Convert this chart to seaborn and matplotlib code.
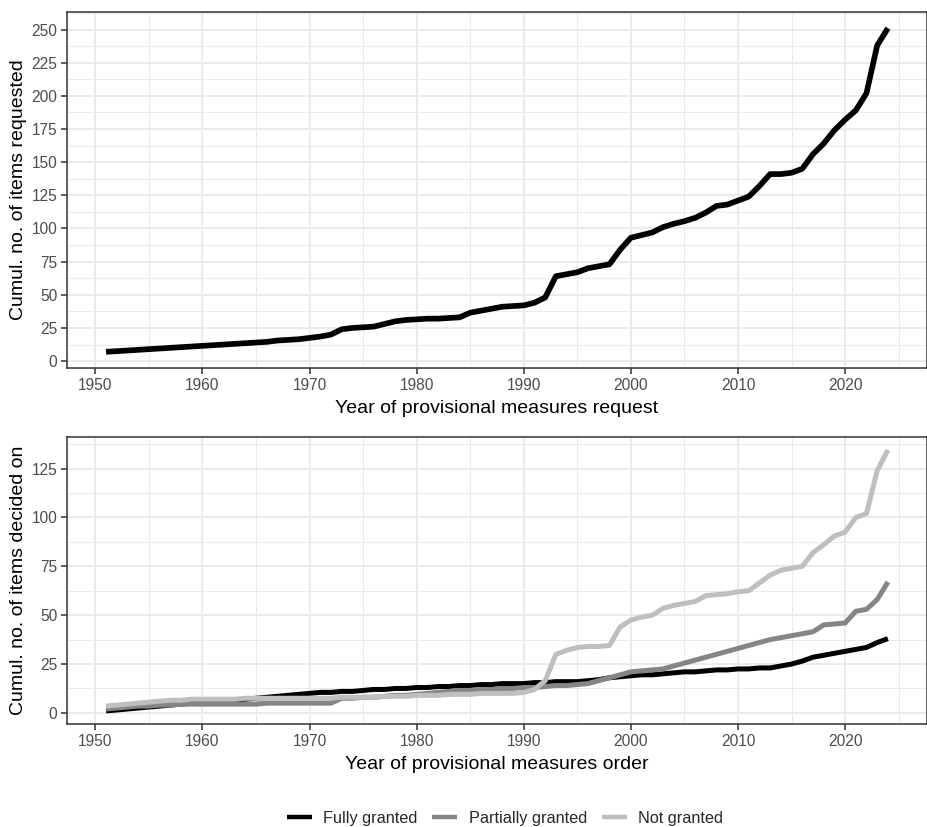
import numpy as np
import pandas as pd
import matplotlib
matplotlib.use("Agg")
import matplotlib.pyplot as plt
from matplotlib.ticker import MultipleLocator
import seaborn as sns

# cumulative counts per year
years = list(range(1951, 2025))

requested = [7, 7.5, 8, 8.5, 9, 9.5, 10, 10.5, 11, 11.5,
             12, 12.5, 13, 13.5, 14, 14.5, 15.5, 16, 16.5, 17.5,
             18.5, 20, 24, 25, 25.5, 26, 28, 30, 31, 31.5,
             32, 32, 32.5, 33, 36.5, 38, 39.5, 41, 41.5, 42,
             44, 48, 64, 65.5, 67, 70, 71.5, 73, 84, 93,
             95, 97, 101, 103.5, 105.5, 108, 112, 117, 118, 121,
             124, 132, 141, 141, 142, 145, 156, 164, 174, 182,
             189, 202, 238, 251]

fully_granted = [1, 1.5, 2, 2.5, 3, 3.5, 4, 4.5, 5, 5.5,
                 6, 6, 6.5, 7, 7.5, 8, 8.5, 9, 9.5, 10,
                 10.5, 10.5, 11, 11, 11.5, 12, 12, 12.5, 12.5, 13,
                 13, 13.5, 13.5, 14, 14, 14.5, 14.5, 15, 15, 15,
                 15.5, 15.5, 16, 16, 16, 16.5, 17, 18, 18.5, 19,
                 19.5, 19.5, 20, 20.5, 21, 21, 21.5, 22, 22, 22.5,
                 22.5, 23, 23, 24, 25, 26.5, 28.5, 29.5, 30.5, 31.5,
                 32.5, 33.5, 36, 38]

partially_granted = [2, 2.5, 3, 3.5, 3.5, 4, 4, 4.5, 4.5, 4.5,
                     4.5, 4.5, 4.5, 4.5, 4.5, 5, 5, 5, 5, 5,
                     5, 5, 7.5, 7.5, 8, 8, 8.5, 9, 9, 9.5,
                     10, 10.5, 11, 11.5, 11.5, 12, 12, 12.5, 12.5, 13,
                     13, 13.5, 14, 14, 14.5, 15, 16.5, 18, 19.5, 21,
                     21.5, 22, 22.5, 24, 25.5, 27, 28.5, 30, 31.5, 33,
                     34.5, 36, 37.5, 38.5, 39.5, 40.5, 41.5, 45, 45.5, 46,
                     52, 53, 58, 67]

not_granted = [3.5, 4, 4.5, 5, 5.5, 6, 6.5, 6.5, 7, 7,
               7, 7, 7, 7.5, 7.5, 7.5, 7.5, 7.5, 7.5, 7.5,
               7.5, 7.5, 8, 8, 8, 8, 8.5, 8.5, 8.5, 9,
               9, 9, 9.5, 9.5, 9.5, 10, 10, 10, 10, 10.5,
               12, 16.5, 30, 32, 33.5, 34, 34, 34.5, 44, 47.5,
               49, 50, 53.5, 55, 56, 57, 60, 60.5, 61, 62,
               62.5, 66.5, 70.5, 73, 74, 75, 82, 86, 90.5, 92.5,
               100, 102, 124, 134.5]

outcomes = ["Fully granted", "Partially granted", "Not granted"]
outcome_colors = ["#000000", "#858585", "#bfbfbf"]

req_df = pd.DataFrame({"year": years, "count": requested})
dec_df = pd.DataFrame({
    "year": years * 3,
    "count": fully_granted + partially_granted + not_granted,
    "outcome": np.repeat(outcomes, len(years)),
})

sns.set_theme(style="whitegrid")
plt.rcParams["font.family"] = ["Liberation Sans", "DejaVu Sans"]
plt.rcParams["lines.solid_capstyle"] = "butt"

fig = plt.figure(figsize=(9.28, 8.27), dpi=100)
W, H = 928, 827
ax1 = fig.add_axes([67 / W, 1 - 368 / H, 860 / W, 356 / H])
ax2 = fig.add_axes([67 / W, 1 - 724 / H, 860 / W, 287 / H])

sns.lineplot(data=req_df, x="year", y="count", color="black",
             linewidth=4.1, ax=ax1, legend=False)
sns.lineplot(data=dec_df, x="year", y="count", hue="outcome",
             hue_order=outcomes, palette=outcome_colors,
             linewidth=3.6, ax=ax2)


def style_axes(ax, ystep, xlabel, ylabel, xlab_y):
    ax.set_facecolor("white")
    ax.xaxis.set_major_locator(MultipleLocator(10))
    ax.xaxis.set_minor_locator(MultipleLocator(5))
    ax.yaxis.set_major_locator(MultipleLocator(ystep))
    ax.yaxis.set_minor_locator(MultipleLocator(ystep / 2))
    ax.grid(which="major", color="#ebebeb", linewidth=1.4)
    ax.grid(which="minor", color="#ebebeb", linewidth=0.7)
    ax.set_axisbelow(True)
    for sp in ax.spines.values():
        sp.set_color("#333333")
        sp.set_linewidth(1.1)
    ax.tick_params(which="major", length=4, width=1.1, color="#333333",
                   labelsize=11.2, labelcolor="#4d4d4d", pad=3,
                   left=True, bottom=True)
    ax.tick_params(which="minor", length=0)
    ax.set_xlabel(xlabel, fontsize=14, color="black")
    ax.set_ylabel(ylabel, fontsize=14, color="black")
    ax.xaxis.set_label_coords(0.5, xlab_y)
    ax.yaxis.set_label_coords(-0.047, 0.5)
    ax.margins(x=0.05, y=0.05)


style_axes(ax1, 25, "Year of provisional measures request",
           "Cumul. no. of items requested", -0.089)
style_axes(ax2, 25, "Year of provisional measures order",
           "Cumul. no. of items decided on", -0.112)

handles, labels = ax2.get_legend_handles_labels()
ax2.get_legend().remove()
for h in handles:
    h.set_linewidth(3.2)
fig.legend(handles, labels, loc="center", bbox_to_anchor=(505 / W, 1 - 818 / H),
           ncol=3, frameon=False, fontsize=11.7, handlelength=1.55,
           handletextpad=0.7, columnspacing=0.9)

fig.savefig("out.png", dpi=100)
